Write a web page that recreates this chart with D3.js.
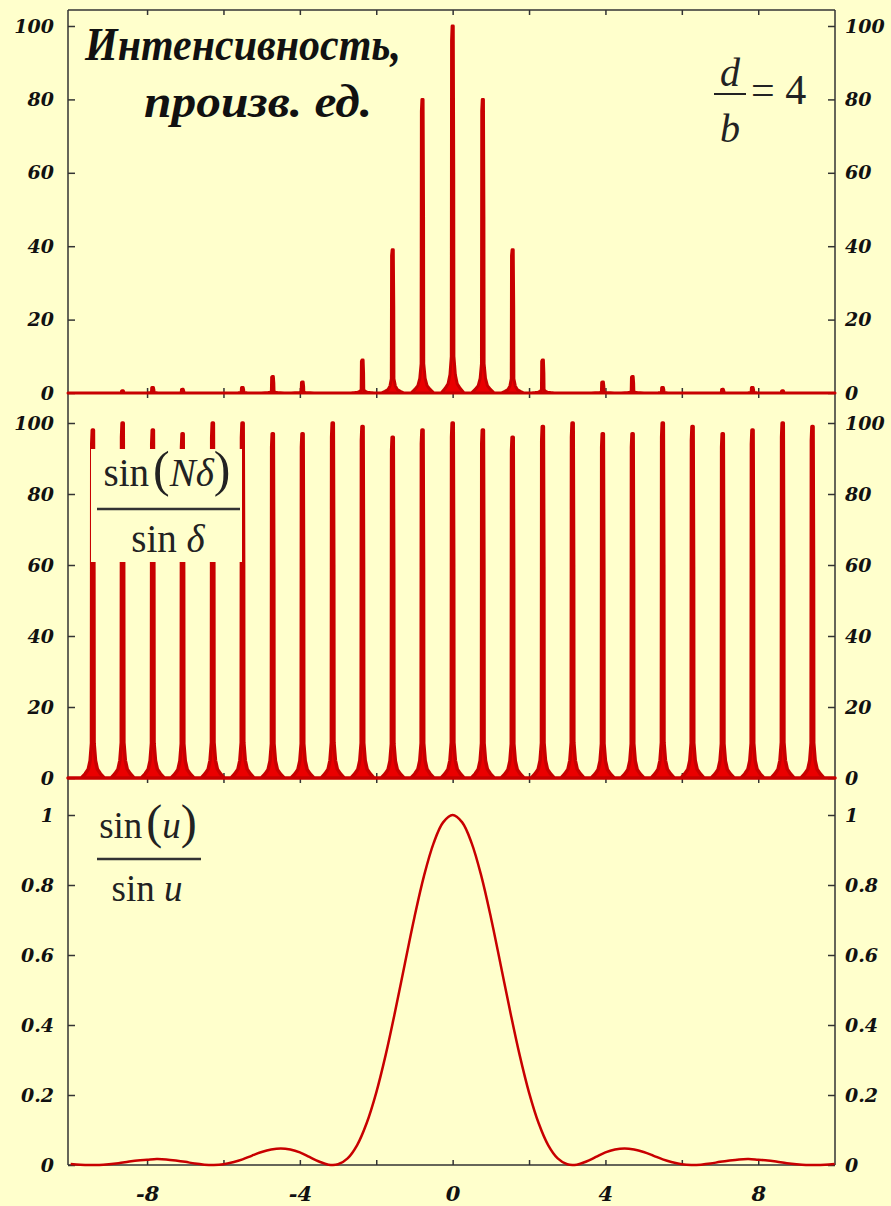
<!DOCTYPE html>
<html>
<head>
<meta charset="utf-8">
<script src="https://cdn.jsdelivr.net/npm/d3@7"></script>
<style>
  html, body { margin: 0; padding: 0; background: #ffffcc; }
  svg { display: block; }
</style>
</head>
<body>
<div id="chart"></div>
<script>
// ---- data ----
const peakX = [-9.42, -8.64, -7.85, -7.07, -6.28, -5.50, -4.71, -3.93, -3.14, -2.36, -1.57, -0.79, 0,
  0.79, 1.57, 2.36, 3.14, 3.93, 4.71, 5.50, 6.28, 7.07, 7.85, 8.64, 9.42]
const intensityPeaks = [0, 0.6, 1.5, 1, 0, 1.5, 4.5, 3, 0, 9, 39, 80, 100, 80, 39, 9, 0, 3, 4.5, 1.5, 0, 1, 1.5, 0.6, 0]
const gratingPeaks = [98, 100, 98, 97, 100, 100, 97, 97, 100, 99, 96, 98, 100, 98, 96, 99, 100, 97, 97, 100, 99, 97, 98, 100, 99]

const envX = [-10, -9.75, -9.5, -9.25, -9, -8.75, -8.5, -8.25, -8, -7.75, -7.5, -7.25, -7, -6.75, -6.5, -6.25,
  -6, -5.75, -5.5, -5.25, -5, -4.75, -4.5, -4.25, -4, -3.75, -3.5, -3.25, -3, -2.75, -2.5, -2.25,
  -2, -1.75, -1.5, -1.25, -1, -0.75, -0.5, -0.25, 0, 0.25, 0.5, 0.75, 1, 1.25, 1.5, 1.75,
  2, 2.25, 2.5, 2.75, 3, 3.25, 3.5, 3.75, 4, 4.25, 4.5, 4.75, 5, 5.25, 5.5, 5.75,
  6, 6.25, 6.5, 6.75, 7, 7.25, 7.5, 7.75, 8, 8.25, 8.5, 8.75, 9, 9.25, 9.5, 9.75, 10]
const envY = [0.003, 0.001, 0, 0, 0.002, 0.005, 0.009, 0.013, 0.015, 0.017, 0.016, 0.013, 0.009, 0.004, 0.001, 0,
  0.002, 0.008, 0.016, 0.027, 0.037, 0.044, 0.047, 0.044, 0.036, 0.023, 0.010, 0.001, 0.002, 0.019, 0.057, 0.120,
  0.207, 0.316, 0.442, 0.576, 0.708, 0.826, 0.919, 0.979, 1, 0.979, 0.919, 0.826, 0.708, 0.576, 0.442, 0.316,
  0.207, 0.120, 0.057, 0.019, 0.002, 0.001, 0.010, 0.023, 0.036, 0.044, 0.047, 0.044, 0.037, 0.027, 0.016, 0.008,
  0.002, 0, 0.001, 0.004, 0.009, 0.013, 0.016, 0.017, 0.015, 0.013, 0.009, 0.005, 0.002, 0, 0, 0.001, 0.003]

const xTickLabels = [-8, -4, 0, 4, 8]
const xMinorTicks = [-8, -6, -4, -2, 0, 2, 4, 6, 8]
const pctTicks = [0, 20, 40, 60, 80, 100]
const unitTicks = [0, 0.2, 0.4, 0.6, 0.8, 1]

// ---- layout ----
const width = 891
const height = 1206
const plotLeft = 68
const plotRight = 835
const plotTop = 10
const plotBottom = 1165
const split1 = 393
const split2 = 778

const bg = '#ffffcc'
const red = '#ea0000'
const darkRed = '#c80000'
const axisColor = '#333'
const serif = '"Liberation Serif", "DejaVu Serif", serif'
const tickFont = '"DejaVu Serif", "Liberation Serif", serif'

const svg = d3
  .select('#chart')
  .append('svg')
  .attr('width', width)
  .attr('height', height)

svg
  .append('rect')
  .attr('width', width)
  .attr('height', height)
  .attr('fill', bg)

const x = d3.scaleLinear().domain([-10.07, 10.01]).range([plotLeft, plotRight])
const y1 = d3.scaleLinear().domain([0, 100]).range([split1, 26])
const y2 = d3.scaleLinear().domain([0, 100]).range([split2, 423])
const y3 = d3.scaleLinear().domain([0, 1]).range([plotBottom, 815])

// ---- axes ----
function styleAxis(g) {
  g.select('.domain').remove()
  g.selectAll('line').attr('stroke', axisColor).attr('stroke-width', 1.5)
  g.selectAll('text')
    .attr('fill', '#111')
    .style('font-family', tickFont)
    .style('font-weight', 'bold')
    .style('font-style', 'italic')
    .style('font-size', '19px')
}

const panels = [
  { y: y1, ticks: pctTicks, fmt: d3.format('d'), top: plotTop, bottom: split1 },
  { y: y2, ticks: pctTicks, fmt: d3.format('d'), top: split1, bottom: split2 },
  { y: y3, ticks: unitTicks, fmt: d => (d === 0 || d === 1 ? String(d) : d3.format('.1f')(d)), top: split2, bottom: plotBottom }
]

panels.forEach(p => {
  svg
    .append('g')
    .attr('transform', `translate(${plotLeft},0)`)
    .call(d3.axisLeft(p.y).tickValues(p.ticks).tickFormat(p.fmt).tickSizeInner(-7).tickSizeOuter(0).tickPadding(14))
    .call(styleAxis)

  svg
    .append('g')
    .attr('transform', `translate(${plotRight},0)`)
    .call(d3.axisRight(p.y).tickValues(p.ticks).tickFormat(p.fmt).tickSizeInner(-7).tickSizeOuter(0).tickPadding(10))
    .call(styleAxis)

  svg
    .append('g')
    .attr('transform', `translate(0,${p.top})`)
    .call(d3.axisTop(x).tickValues(xMinorTicks).tickFormat('').tickSizeInner(-5).tickSizeOuter(0))
    .call(styleAxis)

  svg
    .append('g')
    .attr('transform', `translate(0,${p.bottom})`)
    .call(d3.axisBottom(x).tickValues(xMinorTicks).tickFormat('').tickSizeInner(-5).tickSizeOuter(0))
    .call(styleAxis)
})

svg
  .append('g')
  .attr('transform', `translate(0,${plotBottom})`)
  .call(d3.axisBottom(x).tickValues(xTickLabels).tickFormat(d => String(d)).tickSize(0).tickPadding(21))
  .call(styleAxis)
  .selectAll('text')
  .style('font-size', '21px')

// frame
const frame = svg.append('g').attr('stroke', axisColor).attr('stroke-width', 1.5)
frame.append('line').attr('x1', plotLeft).attr('x2', plotLeft).attr('y1', plotTop).attr('y2', plotBottom)
frame.append('line').attr('x1', plotRight).attr('x2', plotRight).attr('y1', plotTop).attr('y2', plotBottom)
;[plotTop, split1, split2, plotBottom].forEach(yy => {
  frame.append('line').attr('x1', plotLeft).attr('x2', plotRight).attr('y1', yy).attr('y2', yy)
})

// ---- spiky panels ----
// outline of one principal maximum: [offset in x units, share of the peak height]
const spike = [[-0.3, 0], [-0.2, 0.012], [-0.12, 0.025], [-0.07, 0.05], [-0.035, 0.1], [-0.028, 0.96],
  [-0.014, 1], [0.016, 1], [0.028, 0.6], [0.033, 0.1], [0.07, 0.05], [0.12, 0.025], [0.2, 0.012], [0.3, 0]]

function spikePoints(heights) {
  const pts = [[x.domain()[0], 0]]
  peakX.forEach((c, i) => {
    spike.forEach(s => pts.push([c + s[0], heights[i] * s[1]]))
  })
  pts.push([x.domain()[1], 0])
  return pts
}

function drawSpikes(yScale, heights, sw) {
  const area = d3
    .area()
    .x(d => x(d[0]))
    .y0(yScale(0))
    .y1(d => yScale(d[1]))
  svg
    .append('path')
    .datum(spikePoints(heights))
    .attr('d', area)
    .attr('fill', red)
    .attr('stroke', darkRed)
    .attr('stroke-width', sw)
    .attr('stroke-linejoin', 'round')
}

drawSpikes(y1, intensityPeaks, 3)
drawSpikes(y2, gratingPeaks, 3.5)

// ---- envelope ----
const envLine = d3
  .line()
  .x((d, i) => x(envX[i]))
  .y(d => y3(d))
  .curve(d3.curveCatmullRom)

svg
  .append('path')
  .datum(envY)
  .attr('d', envLine)
  .attr('fill', 'none')
  .attr('stroke', darkRed)
  .attr('stroke-width', 2.5)

// ---- labels ----
svg
  .append('text')
  .attr('x', 243)
  .attr('y', 60)
  .attr('text-anchor', 'middle')
  .attr('textLength', 316)
  .attr('lengthAdjust', 'spacingAndGlyphs')
  .style('font-family', serif)
  .style('font-weight', 'bold')
  .style('font-style', 'italic')
  .style('font-size', '46px')
  .attr('fill', '#111')
  .text('Интенсивность,')

svg
  .append('text')
  .attr('x', 258)
  .attr('y', 117)
  .attr('text-anchor', 'middle')
  .attr('textLength', 228)
  .attr('lengthAdjust', 'spacingAndGlyphs')
  .style('font-family', serif)
  .style('font-weight', 'bold')
  .style('font-style', 'italic')
  .style('font-size', '46px')
  .attr('fill', '#111')
  .text('произв. ед.')

// d/b = 4
const ratio = svg.append('g').style('font-family', serif).attr('fill', '#222')
ratio.append('text').attr('x', 730).attr('y', 86).attr('text-anchor', 'middle')
  .style('font-size', '40px').style('font-style', 'italic').text('d')
ratio.append('line').attr('x1', 714).attr('x2', 746).attr('y1', 94).attr('y2', 94)
  .attr('stroke', '#222').attr('stroke-width', 2)
ratio.append('text').attr('x', 730).attr('y', 142).attr('text-anchor', 'middle')
  .style('font-size', '40px').style('font-style', 'italic').text('b')
ratio.append('text').attr('x', 751).attr('y', 104)
  .style('font-size', '42px').text('= 4')

// sin(Nδ)/sin δ with a patch that hides the peaks behind it
svg.append('rect').attr('x', 91).attr('y', 449).attr('width', 151).attr('height', 113).attr('fill', bg)
const f2 = svg.append('g').style('font-family', serif).attr('fill', '#222').style('font-size', '39px')
const num2 = f2.append('text').attr('x', 167).attr('y', 486).attr('text-anchor', 'middle')
num2.append('tspan').text('sin')
num2.append('tspan').style('font-size', '50px').style('font-weight', '300').attr('dx', 4).text('(')
num2.append('tspan').style('font-style', 'italic').text('Nδ')
num2.append('tspan').style('font-size', '50px').style('font-weight', '300').text(')')
f2.append('line').attr('x1', 97).attr('x2', 240).attr('y1', 509).attr('y2', 509)
  .attr('stroke', '#333').attr('stroke-width', 2.5)
const den2 = f2.append('text').attr('x', 168).attr('y', 552).attr('text-anchor', 'middle')
den2.append('tspan').text('sin ')
den2.append('tspan').style('font-style', 'italic').text('δ')

// sin(u)/sin u
const f3 = svg.append('g').style('font-family', serif).attr('fill', '#222').style('font-size', '37px')
const num3 = f3.append('text').attr('x', 148).attr('y', 838).attr('text-anchor', 'middle')
num3.append('tspan').text('sin')
num3.append('tspan').style('font-size', '48px').attr('dx', 4).text('(')
num3.append('tspan').style('font-style', 'italic').text('u')
num3.append('tspan').style('font-size', '48px').text(')')
f3.append('line').attr('x1', 97).attr('x2', 201).attr('y1', 859).attr('y2', 859)
  .attr('stroke', '#333').attr('stroke-width', 2.5)
const den3 = f3.append('text').attr('x', 147).attr('y', 901).attr('text-anchor', 'middle')
den3.append('tspan').text('sin ')
den3.append('tspan').style('font-style', 'italic').text('u')
</script>
</body>
</html>
